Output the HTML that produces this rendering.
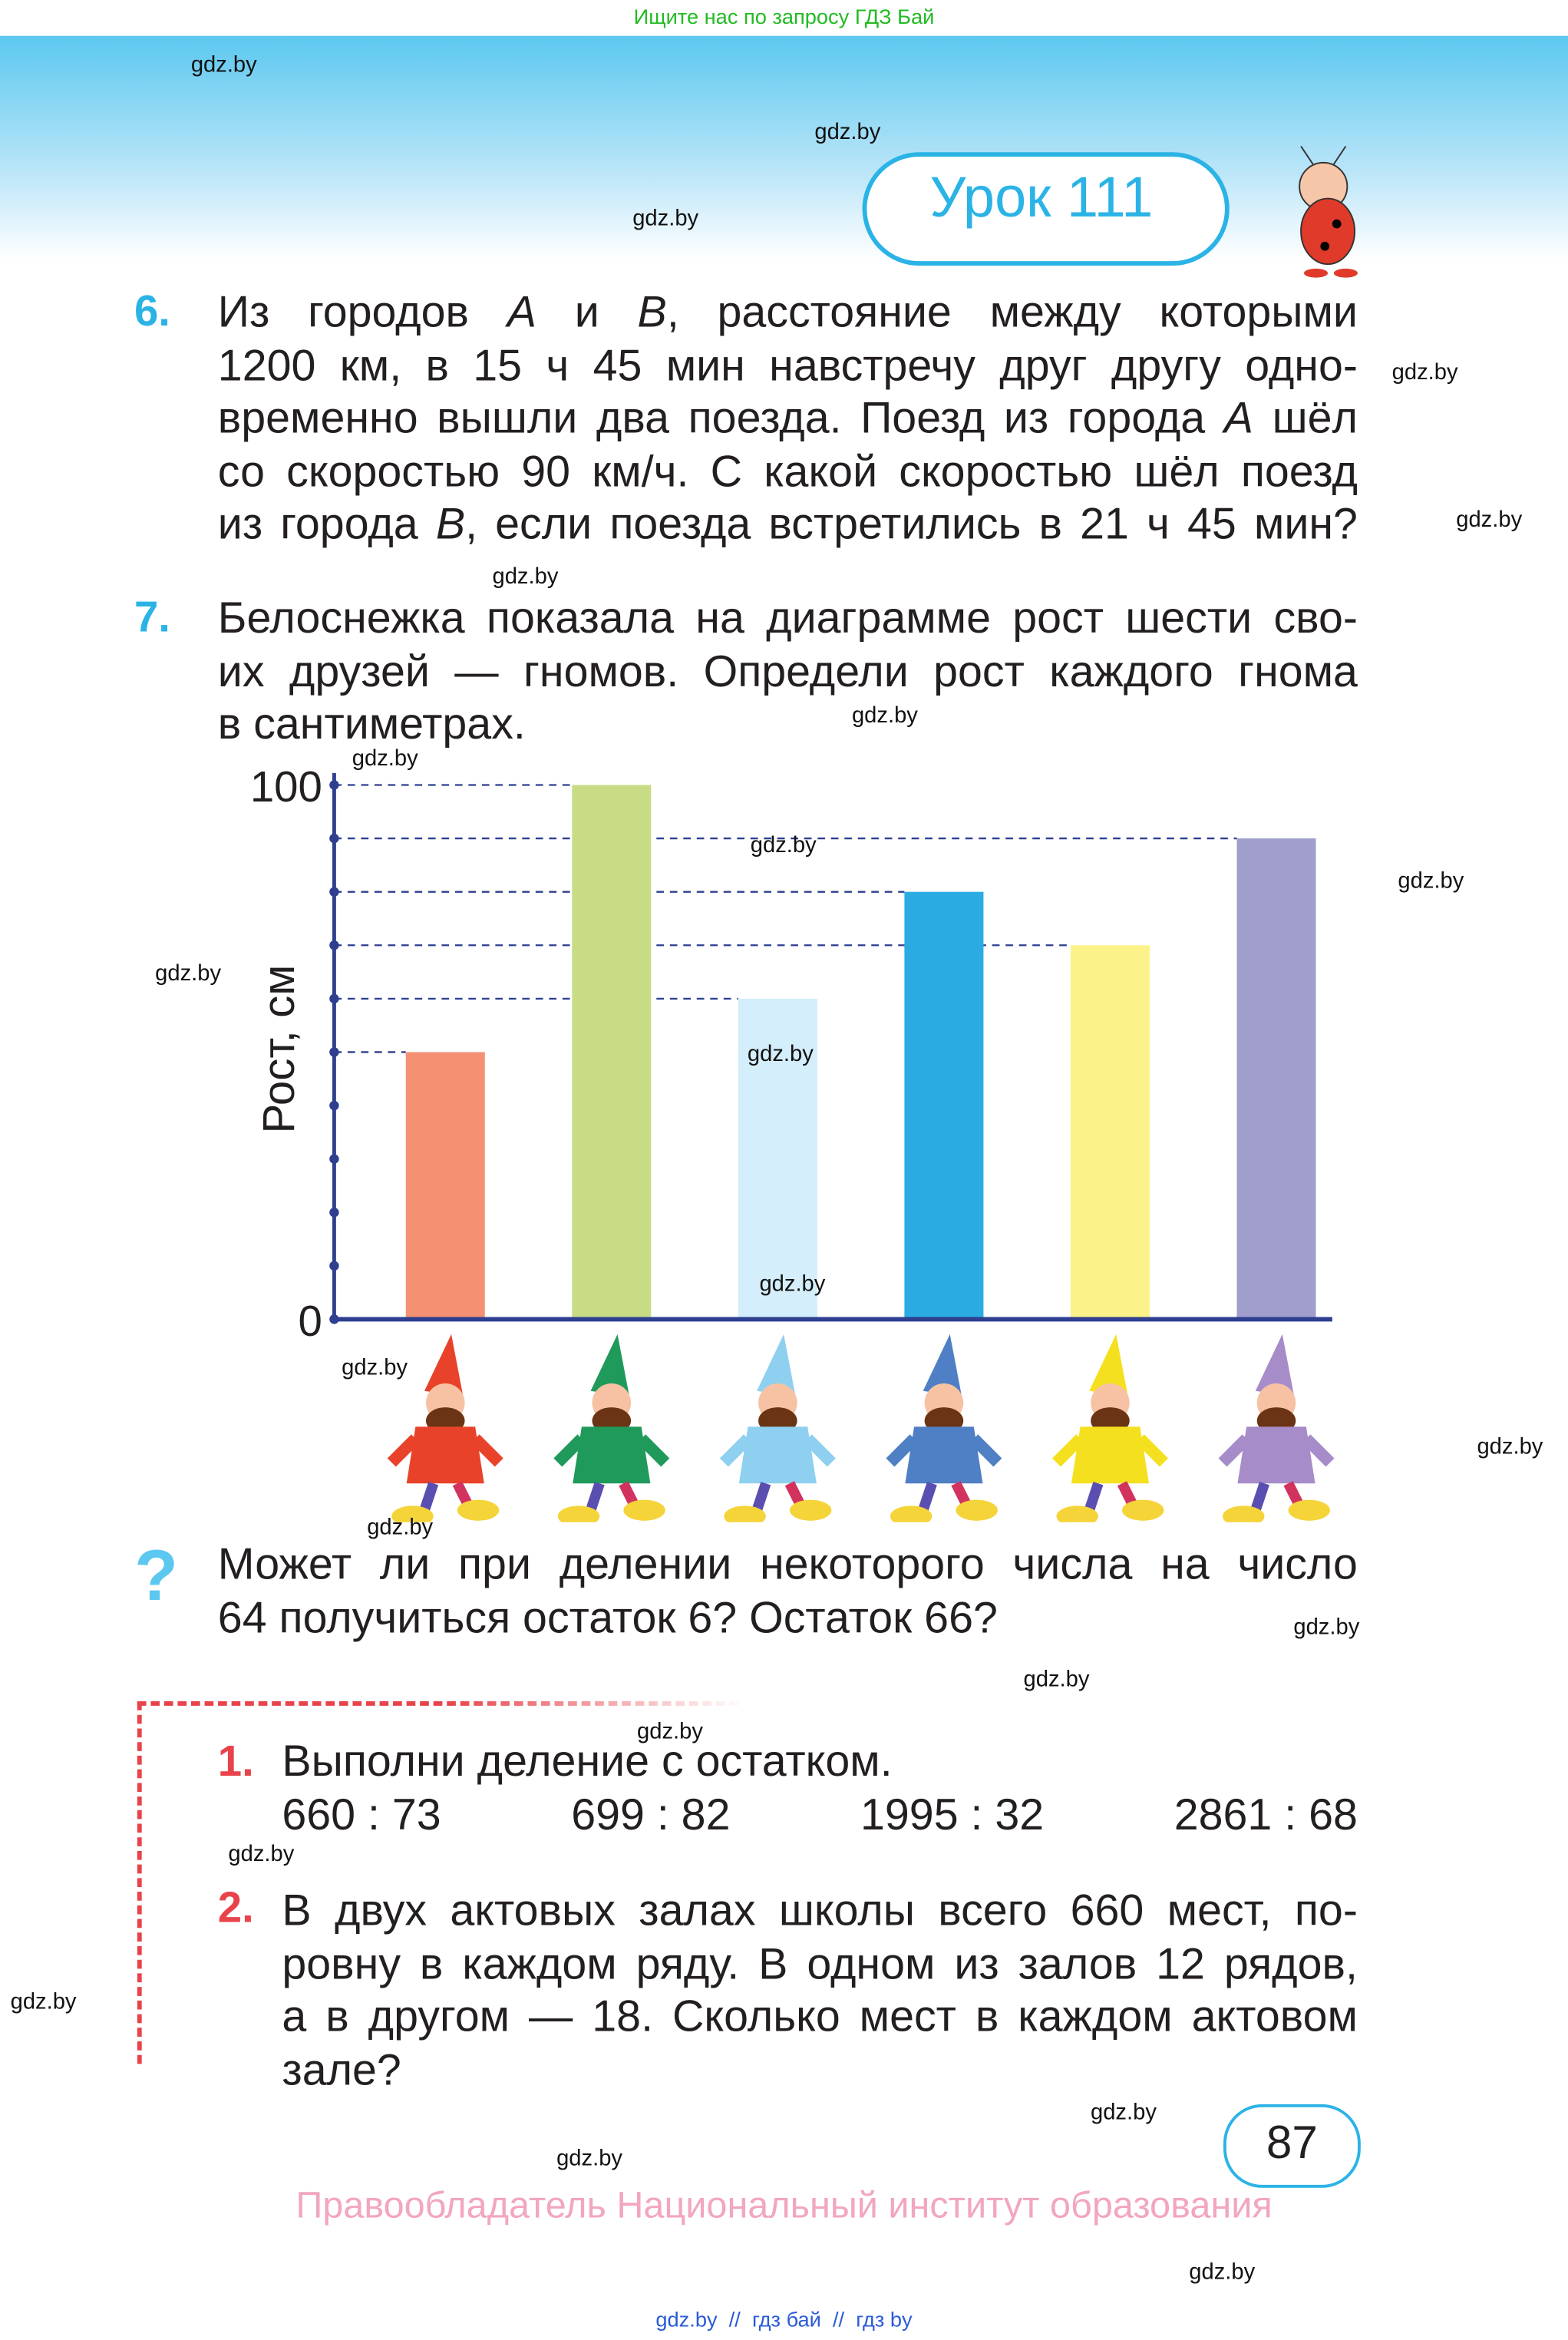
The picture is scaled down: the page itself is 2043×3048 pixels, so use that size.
<!DOCTYPE html>
<html><head><meta charset="utf-8"><style>
html,body{margin:0;padding:0;background:#fff;}
body{width:2043px;height:3048px;overflow:hidden;position:relative;}
#pg{position:absolute;left:0;top:0;width:1051px;height:1568px;transform:scale(1.9439);transform-origin:0 0;font-family:"Liberation Sans",sans-serif;color:#231f20;}
.a{position:absolute;}
.w{position:absolute;font-size:15px;color:#111;}
.t{position:absolute;left:146px;width:764px;font-size:29.5px;line-height:35.5px;text-align:justify;text-align-last:justify;}
.t span.l{display:block;}
.n{position:absolute;font-size:29px;font-weight:bold;}
</style></head><body>
<div id="pg">
<div class="a" style="left:0;top:24px;width:1051px;height:150px;background:linear-gradient(#5cc8f0,#b9e5f8 60%,#fff);"></div>
<div class="a" style="left:0;top:0;width:1051px;text-align:center;font-size:14px;color:#22bb22;top:3px;">Ищите нас по запросу ГДЗ Бай</div>
<div class="a" style="left:578px;top:102px;width:240px;height:70px;border:3px solid #2bb3e6;border-radius:40px;background:#fff;"></div>
<div class="a" style="left:578px;top:112px;width:240px;text-align:center;font-size:38px;color:#2bb3e6;">Урок 111</div>
<svg class="a" style="left:852px;top:95px" width="70" height="92"><circle cx="35" cy="30" r="16" fill="#f6c6a8" stroke="#333"/><ellipse cx="38" cy="60" rx="18" ry="22" fill="#e03a2a" stroke="#333"/><circle cx="44" cy="55" r="3"/><circle cx="36" cy="70" r="3"/><line x1="28" y1="15" x2="20" y2="3" stroke="#333"/><line x1="42" y1="15" x2="50" y2="3" stroke="#333"/><ellipse cx="30" cy="88" rx="8" ry="3" fill="#e03a2a"/><ellipse cx="50" cy="88" rx="8" ry="3" fill="#e03a2a"/></svg>

<div class="n" style="left:90px;top:193px;color:#2bb3e6;">6.</div>
<div class="t" style="top:192px;"><span class="l">Из городов <i>А</i> и <i>В</i>, расстояние между которыми</span><span class="l">1200 км, в 15 ч 45 мин навстречу друг другу одно-</span><span class="l">временно вышли два поезда. Поезд из города <i>А</i> шёл</span><span class="l">со скоростью 90 км/ч. С какой скоростью шёл поезд</span><span class="l">из города <i>В</i>, если поезда встретились в 21 ч 45 мин?</span></div>
<div class="n" style="left:90px;top:398px;color:#2bb3e6;">7.</div>
<div class="t" style="top:397px;"><span class="l">Белоснежка показала на диаграмме рост шести сво-</span><span class="l">их друзей — гномов. Определи рост каждого гнома</span><span class="l" style="text-align-last:left">в сантиметрах.</span></div>

<svg id="chart" class="a" style="left:0;top:0" width="1051" height="1020"></svg>

<svg class="a" style="left:88px;top:1030px" width="40" height="50"><text x="2" y="42" font-size="48" font-weight="bold" fill="#5cc8f0" font-family="Liberation Sans">?</text></svg>
<div class="t" style="top:1031px;"><span class="l">Может ли при делении некоторого числа на число</span><span class="l" style="text-align-last:left">64 получиться остаток 6? Остаток 66?</span></div>

<div class="a" style="left:92px;top:1140px;width:400px;height:240px;border-top:3px dashed #e8434a;border-left:3px dashed #e8434a;"></div>
<div class="a" style="left:300px;top:1136px;width:200px;height:10px;background:linear-gradient(90deg,rgba(255,255,255,0),#fff);"></div>
<div class="n" style="left:146px;top:1165px;color:#e8434a;">1.</div>
<div class="a" style="left:189px;top:1164px;font-size:29.5px;">Выполни деление с остатком.</div>
<div class="a" style="left:189px;top:1200px;width:721px;font-size:29.5px;display:flex;justify-content:space-between;"><span>660 : 73</span><span>699 : 82</span><span>1995 : 32</span><span>2861 : 68</span></div>
<div class="n" style="left:146px;top:1263px;color:#e8434a;">2.</div>
<div class="t" style="top:1263px;left:189px;width:721px;"><span class="l">В двух актовых залах школы всего 660 мест, по-</span><span class="l">ровну в каждом ряду. В одном из залов 12 рядов,</span><span class="l">а в другом — 18. Сколько мест в каждом актовом</span><span class="l" style="text-align-last:left">зале?</span></div>

<div class="a" style="left:820px;top:1410px;width:88px;height:52px;border:2px solid #2bb3e6;border-radius:26px;"></div>
<div class="a" style="left:820px;top:1418px;width:92px;text-align:center;font-size:31px;">87</div>
<div class="a" style="left:0;width:1051px;top:1464px;text-align:center;font-size:25px;color:#f2a6bf;">Правообладатель Национальный институт образования</div>
<div class="a" style="left:0;width:1051px;top:1546px;text-align:center;font-size:14px;color:#2a5bd7;">gdz.by &nbsp;// &nbsp;гдз бай &nbsp;// &nbsp;гдз by</div>

<div class="w" style="left:128px;top:35px">gdz.by</div>
<div class="w" style="left:546px;top:80px">gdz.by</div>
<div class="w" style="left:424px;top:138px">gdz.by</div>
<div class="w" style="left:933px;top:241px">gdz.by</div>
<div class="w" style="left:976px;top:340px">gdz.by</div>
<div class="w" style="left:330px;top:378px">gdz.by</div>
<div class="w" style="left:571px;top:471px">gdz.by</div>
<div class="w" style="left:236px;top:500px">gdz.by</div>
<div class="w" style="left:503px;top:558px">gdz.by</div>
<div class="w" style="left:937px;top:582px">gdz.by</div>
<div class="w" style="left:104px;top:644px">gdz.by</div>
<div class="w" style="left:501px;top:698px">gdz.by</div>
<div class="w" style="left:509px;top:852px">gdz.by</div>
<div class="w" style="left:229px;top:908px">gdz.by</div>
<div class="w" style="left:990px;top:961px">gdz.by</div>
<div class="w" style="left:246px;top:1015px">gdz.by</div>
<div class="w" style="left:867px;top:1082px">gdz.by</div>
<div class="w" style="left:686px;top:1117px">gdz.by</div>
<div class="w" style="left:427px;top:1152px">gdz.by</div>
<div class="w" style="left:153px;top:1234px">gdz.by</div>
<div class="w" style="left:7px;top:1333px">gdz.by</div>
<div class="w" style="left:731px;top:1407px">gdz.by</div>
<div class="w" style="left:373px;top:1438px">gdz.by</div>
<div class="w" style="left:797px;top:1514px">gdz.by</div>
</div>
<script>
const gnomes = ["red","green","lightblue","blue","yellow","purple"];
const heights = [50,100,60,80,70,90];
const barColors = ["#f39172","#c7dc84","#d4eefb","#2aace2","#fbf38a","#a09fcc"];
const shirtColors = ["#e8432a","#1f9a5a","#8fd0f0","#4f7fc4","#f5e020","#a68cc8"];
const yTicks = [0,100];
const NS="http://www.w3.org/2000/svg";
const svg=document.getElementById('chart');
const x0=224, y0=884, yTop=526, barW=53, firstX=272, step=111.4, xEnd=893;
function yS(v){return y0-(v/100)*(y0-yTop);}
function xS(i){return firstX+i*step;}
function mk(t,a){const e=document.createElementNS(NS,t);for(const k in a)e.setAttribute(k,a[k]);svg.appendChild(e);return e;}
heights.forEach((h,i)=>{
  const l=mk('line',{x1:x0,x2:xS(i),y1:yS(h),y2:yS(h),stroke:'#2e3f8f','stroke-width':1.2,'stroke-dasharray':'5,4'});
  
  
});
heights.forEach((h,i)=>{
  const r=mk('rect',{x:xS(i),y:yS(h),width:barW,height:y0-yS(h),fill:barColors[i]});
  
  
  const cx=xS(i)+barW/2;
  const g=mk('g',{});
  
  
  const parts=[
    ['path',{d:`M${cx-14} ${y0+48} L${cx+4} ${y0+10} L${cx+12} ${y0+52} Z`,fill:shirtColors[i]}],
    ['circle',{cx:cx,cy:y0+56,r:13,fill:'#f7c2a3'}],
    ['ellipse',{cx:cx,cy:y0+68,rx:13,ry:9,fill:'#6b3414'}],
    ['path',{d:`M${cx-20} ${y0+72} L${cx+20} ${y0+72} L${cx+26} ${y0+110} L${cx-26} ${y0+110} Z`,fill:shirtColors[i]}],
    ['line',{x1:cx-20,y1:y0+80,x2:cx-36,y2:y0+96,stroke:shirtColors[i],'stroke-width':8}],
    ['line',{x1:cx+20,y1:y0+80,x2:cx+36,y2:y0+96,stroke:shirtColors[i],'stroke-width':8}],
    ['line',{x1:cx-8,y1:y0+110,x2:cx-14,y2:y0+128,stroke:'#5a4fb0','stroke-width':7}],
    ['line',{x1:cx+8,y1:y0+110,x2:cx+16,y2:y0+126,stroke:'#d2335e','stroke-width':7}],
    ['ellipse',{cx:cx-22,cy:y0+112+20,rx:14,ry:7,fill:'#f5d43a'}],
    ['ellipse',{cx:cx+22,cy:y0+108+20,rx:14,ry:7,fill:'#f5d43a'}]
  ];
  parts.forEach(p=>{const e=document.createElementNS(NS,p[0]);for(const k in p[1])e.setAttribute(k,p[1][k]);g.appendChild(e);});
});
const ax=mk('line',{x1:x0,x2:x0,y1:yTop-8,y2:y0,stroke:'#2e3f8f','stroke-width':2.5});


const bx=mk('line',{x1:x0,x2:xEnd,y1:y0,y2:y0,stroke:'#2e3f8f','stroke-width':3});


for(let v=0;v<=100;v+=10){
  const c=mk('circle',{cx:x0,cy:yS(v),r:3.2,fill:'#2e3f8f'});
  
  
}
yTicks.forEach(v=>{
  const t=mk('text',{x:x0-8,y:yS(v)+11,'text-anchor':'end','font-size':29,fill:'#231f20','font-family':'Liberation Sans'});
  t.textContent=v;
  
  
});
const tt=mk('text',{x:197,y:703,'text-anchor':'middle','font-size':30,fill:'#231f20','font-family':'Liberation Sans',transform:'rotate(-90 197 703)'});
tt.textContent='Рост, см';


</script>
</body></html>
